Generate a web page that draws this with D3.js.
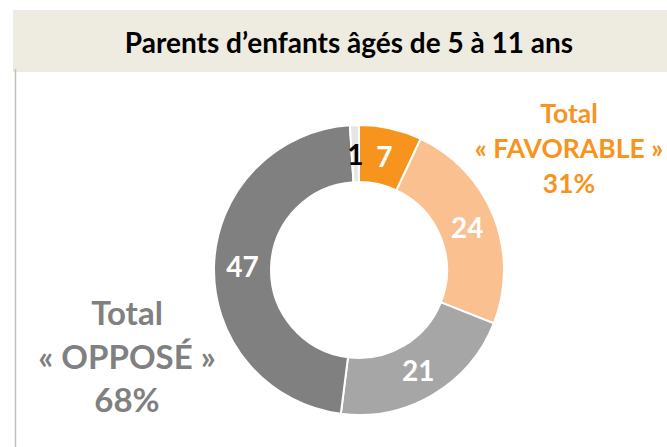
<!DOCTYPE html>
<html>
<head>
<meta charset="utf-8">
<script src="https://cdn.jsdelivr.net/npm/d3@7"></script>
<style>
  body { margin: 0; background: #fff; }
  #chart { width: 667px; height: 447px; }
  text { font-family: Lato, "Open Sans", sans-serif; font-weight: bold; }
</style>
</head>
<body>
<div id="chart"></div>
<script>
// Chart data
const title = "Parents d’enfants âgés de 5 à 11 ans";
const categories = ["Très favorable", "Plutôt favorable", "Plutôt opposé", "Très opposé", "Ne se prononce pas"];
const values = [7, 24, 21, 47, 1];
const colors = ["#F7941D", "#FAC090", "#A6A6A6", "#808080", "#E6E6E6"];
const labelColors = ["#FFFFFF", "#FFFFFF", "#FFFFFF", "#FFFFFF", "#000000"];
const favorableLines = ["Total", "« FAVORABLE »", "31%"];
const opposeLines = ["Total", "« OPPOSÉ »", "68%"];

const width = 667;
const height = 447;
const cx = 359, cy = 270;
const outerR = 145, innerR = 88;

const svg = d3.select("#chart").append("svg")
  .attr("width", width)
  .attr("height", height);

// Title band
svg.append("rect")
  .attr("x", 13)
  .attr("y", 10)
  .attr("width", width - 13)
  .attr("height", 62)
  .attr("fill", "#EEECE1");

svg.append("text")
  .attr("x", 349)
  .attr("y", 53)
  .attr("text-anchor", "middle")
  .style("font-size", "28px")
  .attr("fill", "#000")
  .text(title);

// Left rule
svg.append("line")
  .attr("x1", 15.5).attr("x2", 15.5)
  .attr("y1", 69).attr("y2", height)
  .attr("stroke", "#BFBFBF")
  .attr("stroke-width", 1.5);

// Donut
const pie = d3.pie().sort(null).value((d) => d);
const arcs = pie(values);

const arc = d3.arc().innerRadius(innerR).outerRadius(outerR);
const labelArc = d3.arc().innerRadius((innerR + outerR) / 2).outerRadius((innerR + outerR) / 2);

const g = svg.append("g").attr("transform", `translate(${cx},${cy})`);

g.selectAll(".slice")
  .data(arcs)
  .enter()
  .append("path")
  .attr("class", "slice")
  .attr("d", arc)
  .attr("fill", (d, i) => colors[i])
  .attr("stroke", "#fff")
  .attr("stroke-width", 2);

g.selectAll(".label")
  .data(arcs)
  .enter()
  .append("text")
  .attr("class", "label")
  .attr("transform", (d) => `translate(${labelArc.centroid(d)})`)
  .attr("text-anchor", "middle")
  .attr("dominant-baseline", "central")
  .style("font-size", "28px")
  .attr("fill", (d, i) => labelColors[i])
  .text((d) => d.data);

// Totals
svg.append("g")
  .selectAll("text")
  .data(favorableLines)
  .enter()
  .append("text")
  .attr("x", 569)
  .attr("y", (d, i) => 123 + i * 35)
  .attr("text-anchor", "middle")
  .style("font-size", "26.5px")
  .attr("fill", "#F7941D")
  .text((d) => d);

svg.append("g")
  .selectAll("text")
  .data(opposeLines)
  .enter()
  .append("text")
  .attr("x", 127)
  .attr("y", (d, i) => 325 + i * 43.5)
  .attr("text-anchor", "middle")
  .style("font-size", "33px")
  .attr("fill", "#808080")
  .text((d) => d);
</script>
</body>
</html>
